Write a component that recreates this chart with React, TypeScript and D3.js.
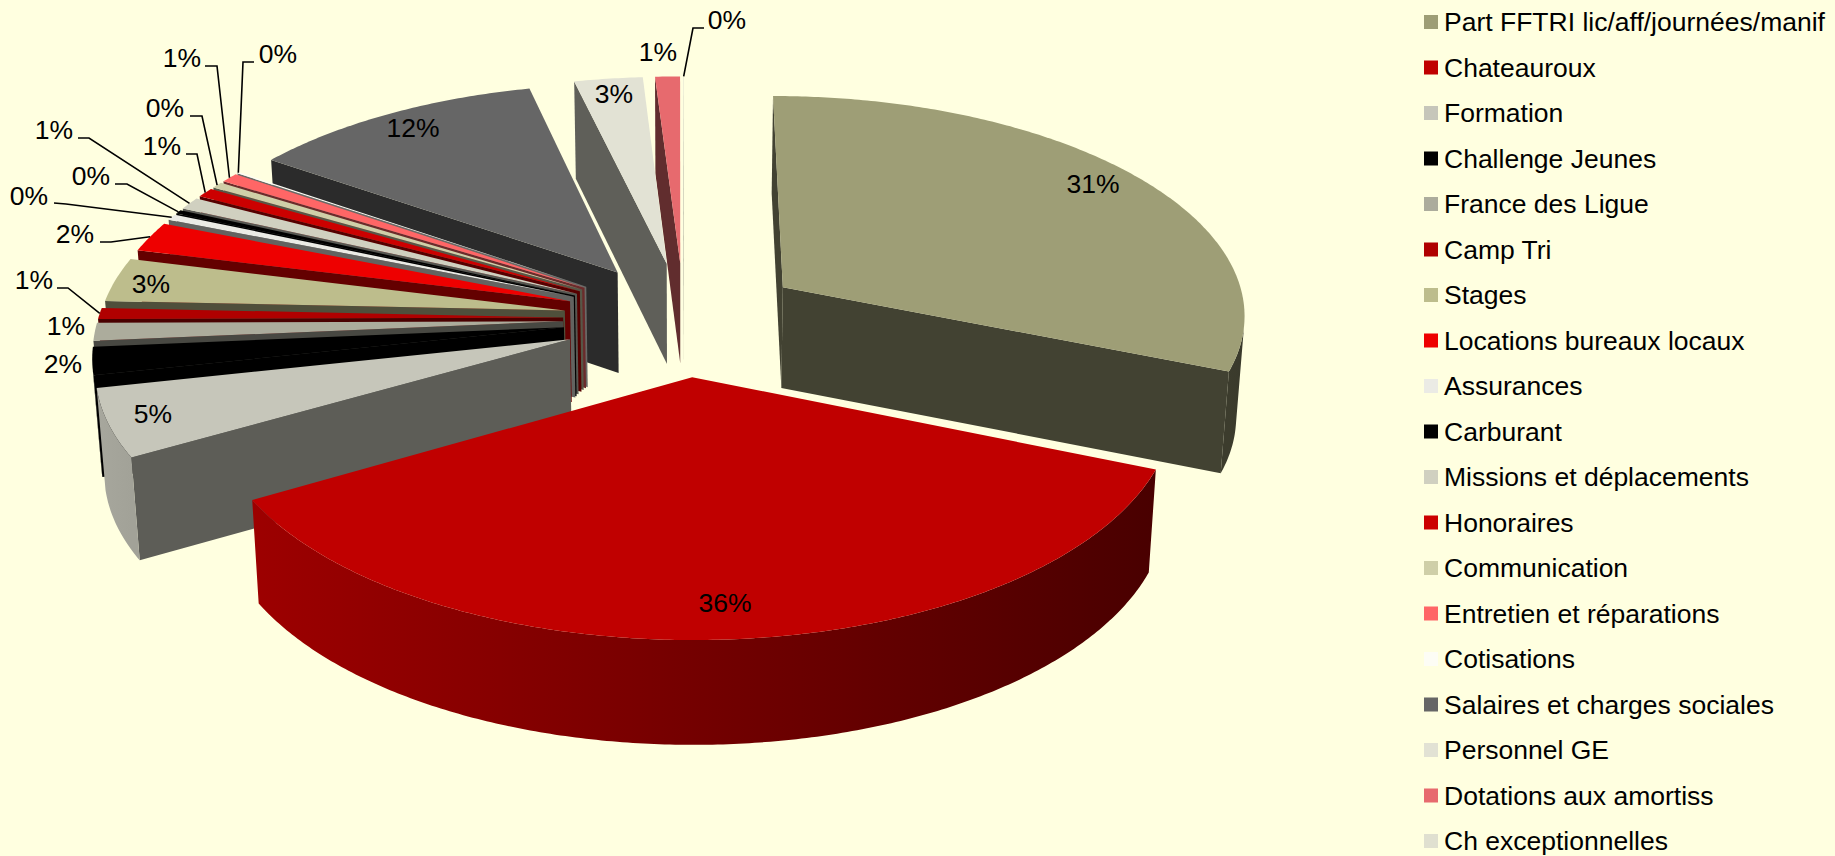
import { useMemo } from "react";
import * as d3 from "d3";

const categories = [
    "Part FFTRI lic/aff/journées/manif", "Chateauroux", "Formation", "Challenge Jeunes", "France des Ligue",
    "Camp Tri", "Stages", "Locations bureaux locaux", "Assurances", "Carburant", "Missions et déplacements",
    "Honoraires", "Communication", "Entretien et réparations", "Cotisations", "Salaires et charges sociales",
    "Personnel GE", "Dotations aux amortiss", "Ch exceptionnelles",
];
// percent of the total
const values = [31.2, 35.5, 4.9, 2, 1.3, 0.8, 3.2, 2.2, 0.45, 0.3, 0.9, 0.7, 0.45, 0.7, 0.1, 11.6, 2.7, 0.98, 0.02];
const colors = [
    "#9e9e76", "#c00000", "#c6c6ba", "#000000", "#acac9c", "#b00000", "#bdbd8c", "#ee0000", "#ebebe5", "#000000",
    "#d0d0c0", "#cc0000", "#cfcfa8", "#ff6666", "#fdfdf5", "#666666", "#e2e2d4", "#e76a6e", "#e0e0d0",
];

// manual label layout, same order as categories
const labelPos: [number, number][] = [
    [1093, 184], [725, 603], [153, 414], [63, 364], [66, 326], [34, 280], [151, 284], [75, 234], [29, 196], [91, 176],
    [54, 130], [162, 146], [165, 108], [182, 58], [278, 54], [413, 128], [614, 94], [658, 52], [727, 20],
];
// leader line: stub start and elbow, the end comes from the slice rim
const leaders: ([number, number][] | null)[] = [
    null, null, null, null, null,
    [[57, 288], [68, 288]],
    null,
    [[100, 242], [111, 242]],
    [[54, 203], [66, 204]],
    [[115, 184], [127, 184]],
    [[78, 138], [89, 138]],
    [[186, 154], [197, 154]],
    [[190, 116], [202, 116]],
    [[205, 66], [217, 66]],
    [[254, 62], [243, 62]],
    null, null, null,
    [[704, 28], [693, 28]],
];

const width = 1835;
const height = 856;

// perspective of the pie plane
const cx = 684;
const cy = 318.6;
const scaleX = 465;
const scaleY = 219.3;
const persp = 0.1118;
const explode = 0.26;
const depth = 101;
const depthFront = 0.03; // wall gets a bit taller towards the viewer
const bottomShrink = 0.015;

type Pt = [number, number];

const project = (u: number, v: number, z: number): Pt => {
    const w = 1 - persp * v;
    return [cx + (scaleX * u * (1 - bottomShrink * z)) / w, cy + (scaleY * v) / w + depth * (1 + depthFront * v) * z];
};

// angle is clockwise from the top of the pie
const dirOf = (a: number): Pt => [Math.sin(a), -Math.cos(a)];

const shade = d3.scaleLinear().domain([-1, 1]).range([0.85, 0.36]);
const darken = (c: string, k: number) => {
    const r = d3.rgb(c);
    return d3.rgb(r.r * k, r.g * k, r.b * k).formatHex();
};
// Formation's cut face catches a bit more light than the others
const wallShade = (i: number) => (i === 2 ? 0.47 : 0.42);

const line = d3.line<Pt>();
const closed = (pts: Pt[]) => (line(pts) ?? "") + "Z";

export default function App() {
    const slices = useMemo(() => {
        const arcs = d3.pie<number>().sort(null).value((d) => d).startAngle(0).endAngle(2 * Math.PI)(values);

        return arcs
            .map((arc) => {
                const i = arc.index;
                const mid = (arc.startAngle + arc.endAngle) / 2;
                const [du, dv] = dirOf(mid);
                const ax = du * explode;
                const ay = dv * explode;
                const n = Math.max(2, Math.ceil((arc.endAngle - arc.startAngle) / 0.01));
                const angles = d3.range(n + 1).map((k) => arc.startAngle + ((arc.endAngle - arc.startAngle) * k) / n);
                const rim = (a: number, z: number) => {
                    const [x, y] = dirOf(a);
                    return project(ax + x, ay + y, z);
                };
                const apexTop = project(ax, ay, 0);
                const apexBot = project(ax, ay, 1);
                const t0 = rim(arc.startAngle, 0);
                const b0 = rim(arc.startAngle, 1);
                const t1 = rim(arc.endAngle, 0);
                const b1 = rim(arc.endAngle, 1);

                const walls = [
                    [apexTop, t0, b0, apexBot],
                    [t1, apexTop, apexBot, b1],
                ].filter((q) => d3.polygonArea(q) > 0);

                // arc wall: keep only the segments that face the viewer
                const front = d3.pairs(angles).filter(
                    ([a, b]) => d3.polygonArea([rim(a, 0), rim(b, 0), rim(b, 1), rim(a, 1)]) > 0,
                );
                let arcWall: Pt[] | null = null;
                let grad: { x1: number; x2: number; c1: string; c2: string } | null = null;
                if (front.length) {
                    const vis = [front[0][0], ...front.map((d) => d[1])];
                    arcWall = [...vis.map((a) => rim(a, 0)), ...vis.slice().reverse().map((a) => rim(a, 1))];
                    const a0 = vis[0];
                    const a1 = vis[vis.length - 1];
                    grad = {
                        x1: rim(a0, 0)[0],
                        x2: rim(a1, 0)[0],
                        c1: darken(colors[i], shade(Math.sin(a0))),
                        c2: darken(colors[i], shade(Math.sin(a1))),
                    };
                }

                return {
                    i,
                    depthKey: dv,
                    top: [apexTop, ...angles.map((a) => rim(a, 0))] as Pt[],
                    walls,
                    arcWall,
                    grad,
                    rimMid: rim(mid, 0),
                };
            })
            .sort((a, b) => a.depthKey - b.depthKey);
    }, []);

    const byIndex = d3.index(slices, (d) => d.i);

    return (
        <svg
            width={width}
            height={height}
            viewBox={`0 0 ${width} ${height}`}
            style={{ position: "fixed", left: 0, top: 0, display: "block", fontFamily: "'Liberation Sans', Arial, sans-serif" }}
        >
            <rect width={width} height={height} fill="#ffffe0" />

            <defs>
                {slices.map((s) =>
                    s.grad ? (
                        <linearGradient
                            key={`g-${s.i}`}
                            id={`arc-${s.i}`}
                            gradientUnits="userSpaceOnUse"
                            x1={s.grad.x1}
                            x2={s.grad.x2}
                            y1={0}
                            y2={0}
                        >
                            <stop offset="0" stopColor={s.grad.c1} />
                            <stop offset="1" stopColor={s.grad.c2} />
                        </linearGradient>
                    ) : null,
                )}
            </defs>

            {/* Slices, back to front */}
            {slices.map((s) => (
                <g key={`s-${s.i}`}>
                    {s.walls.map((q, k) => (
                        <path key={k} d={closed(q)} fill={darken(colors[s.i], wallShade(s.i))} />
                    ))}
                    {s.arcWall && <path d={closed(s.arcWall)} fill={`url(#arc-${s.i})`} />}
                    <path d={closed(s.top)} fill={colors[s.i]} />
                </g>
            ))}

            {/* Leader lines */}
            {leaders.map((stub, i) =>
                stub ? (
                    <polyline
                        key={`l-${i}`}
                        points={[...stub, byIndex.get(i)!.rimMid].map((p) => p.join(",")).join(" ")}
                        fill="none"
                        stroke="#000"
                        strokeWidth={1.6}
                    />
                ) : null,
            )}

            {/* Percent labels */}
            {values.map((v, i) => (
                <text key={`t-${i}`} x={labelPos[i][0]} y={labelPos[i][1]} dy="0.35em" textAnchor="middle" fontSize={26.5} fill="#000">
                    {`${Math.round(v)}%`}
                </text>
            ))}

            {/* Legend */}
            {categories.map((c, i) => {
                const y = 22 + i * 45.5;
                return (
                    <g key={`lg-${i}`}>
                        <rect x={1424} y={y - 7} width={14} height={14} fill={colors[i]} />
                        <text x={1444} y={y} dy="0.35em" fontSize={26.5} fill="#000">
                            {c}
                        </text>
                    </g>
                );
            })}
        </svg>
    );
}
